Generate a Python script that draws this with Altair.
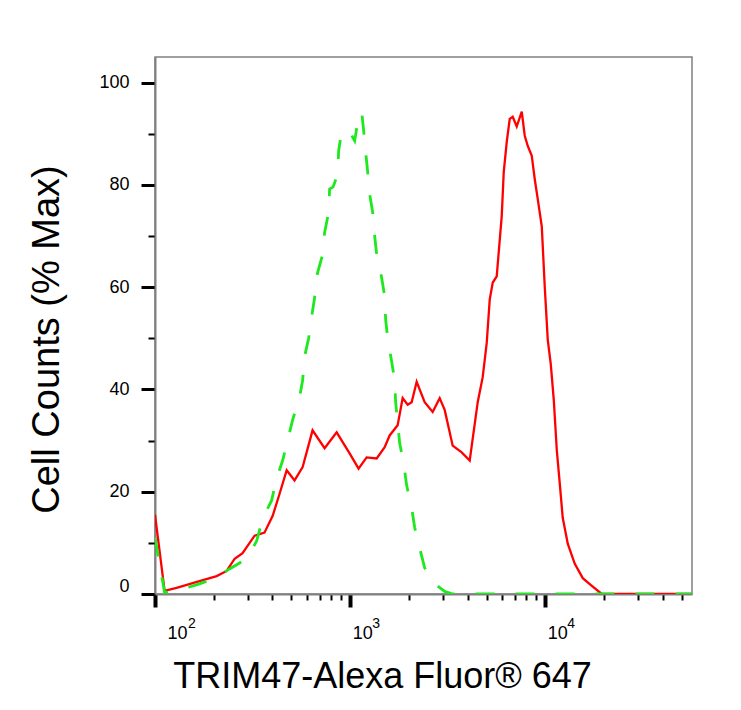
import altair as alt
import pandas as pd

# ---- data ----
red_x = [100, 112, 129, 169, 207, 233, 256, 281, 324, 364,
         401, 435, 473, 519, 571, 642, 740, 853, 994, 1105,
         1215, 1368, 1503, 1594, 1752, 1859, 1972, 2067, 2193, 2410,
         2649, 2877, 3052, 3354, 3731, 4101, 4507, 4780, 5012, 5194,
         5382, 5640, 5774, 5983, 6127, 6348, 6575, 6812, 7142, 7577,
         7851, 8134, 8527, 8835, 9153, 9597, 9940, 10300, 10670, 11060,
         11460, 11870, 12290, 13050, 14170, 15570, 17320, 19490, 56500]
red_y = [15.5, 0.6, 1.2, 2.5, 3.5, 4.5, 6.9, 8.0, 11.4, 12.0,
         15.3, 19.6, 24.2, 22.2, 24.8, 32.0, 28.5, 31.6, 27.5, 24.5,
         26.7, 26.5, 28.7, 31.0, 33.0, 38.3, 37.0, 37.5, 41.5, 37.5,
         35.6, 38.3, 36.0, 29.0, 27.7, 26.1, 37.5, 42.4, 49.1, 57.6,
         60.9, 62.1, 66.8, 73.9, 82.5, 88.4, 92.9, 93.3, 91.4, 94.3,
         89.6, 87.6, 85.7, 81.1, 77.2, 71.9, 60.1, 49.7, 45.0, 37.9,
         28.1, 21.6, 14.9, 9.8, 5.9, 3.1, 1.6, 0, 0]

green_x = [100, 112, 129, 163, 202, 241, 298, 332, 356, 396,
           420, 451, 478, 507, 551, 571, 584, 613, 635, 658,
           681, 723, 740, 776, 785, 818, 863, 873, 904, 994,
           1055, 1080, 1146, 1173, 1201, 1229, 1259, 1305, 1336, 1368,
           1450, 1503, 1521, 1557, 1633, 1691, 1711, 1752, 1794, 1882,
           1949, 2067, 2142, 2272, 2410, 2713, 3052, 3354, 56500]
green_y = [11.0, 0.3, 0.6, 1.8, 3.0, 4.9, 7.0, 10.4, 14.7, 18.3,
           22.6, 26.1, 30.0, 34.0, 38.5, 41.8, 46.4, 50.0, 54.2, 58.0,
           62.8, 66.4, 70.7, 74.6, 79.2, 79.6, 82.0, 86.6, 90.4, 90.4,
           88.6, 91.0, 94.3, 90.6, 86.4, 82.7, 78.2, 74.6, 70.0, 66.4,
           61.9, 58.2, 53.6, 50.0, 45.4, 41.8, 37.5, 33.6, 29.5, 25.5,
           21.2, 16.9, 13.0, 9.0, 5.1, 2.0, 0.5, 0, 0]

x_ticks = [100, 200, 300, 400, 500, 600, 700, 800, 900,
           1000, 2000, 3000, 4000, 5000, 6000, 7000, 8000, 9000,
           10000, 20000, 30000, 40000, 50000]
y_ticks = list(range(0, 106, 5))
exp_vals = [100, 1000, 10000]
exp_text = ["2", "3", "4"]

FONT = "Liberation Sans"

red_df = pd.DataFrame({"x": red_x, "y": red_y, "i": range(len(red_x))})
green_df = pd.DataFrame({"x": green_x, "y": green_y, "i": range(len(green_x))})
exp_df = pd.DataFrame({"x": exp_vals, "t": exp_text})

x_scale = alt.Scale(type="log", domain=[100, 56500], nice=False)
y_scale = alt.Scale(domain=[0, 105], nice=False, zero=False)

MAJOR_X = "datum.value == 100 || datum.value == 1000 || datum.value == 10000"

x_axis = alt.Axis(
    values=x_ticks,
    labelExpr="(" + MAJOR_X + ") ? '10' : ''",
    grid=False,
    domainColor="#808080", domainWidth=2,
    tickColor="#000000",
    tickSize={"condition": {"test": MAJOR_X, "value": 13}, "value": 6},
    tickWidth={"condition": {"test": MAJOR_X, "value": 4}, "value": 2},
    labelAlign="left",
    labelBaseline="alphabetic",
    labelOffset={"condition": {"test": "datum.value == 100", "value": 12}, "value": 2},
    labelPadding=31,
    labelFont=FONT, labelFontSize=18, labelColor="#000000",
    labelOverlap=False,
    title="TRIM47-Alexa Fluor® 647",
    titleFont=FONT, titleFontSize=36, titleFontWeight="normal", titleColor="#000000",
    titleX=227, titleY=93, titleAlign="center", titleBaseline="alphabetic", titleAnchor="start",
)

y_axis = alt.Axis(
    values=y_ticks,
    labelExpr="datum.value % 20 === 0 ? datum.label : ''",
    grid=False,
    domainColor="#808080", domainWidth=2,
    tickColor="#000000",
    tickSize={"condition": {"test": "datum.value % 20 === 0", "value": 14}, "value": 7},
    tickWidth={"condition": {"test": "datum.value % 20 === 0", "value": 3}, "value": 2},
    labelOffset={"condition": {"test": "datum.value === 0", "value": -8}, "value": 0},
    labelPadding=12,
    labelFont=FONT, labelFontSize=18, labelColor="#000000",
    labelOverlap=False,
    title="Cell Counts (% Max)",
    titleFont=FONT, titleFontSize=38, titleFontWeight="normal", titleColor="#000000",
    titleX=-97, titleY=282, titleAlign="center", titleBaseline="alphabetic", titleAngle=270,
    titleAnchor="start",
)

red = alt.Chart(red_df).mark_line(color="#ff0000", strokeWidth=2.3, clip=True).encode(
    x=alt.X("x:Q", scale=x_scale, axis=x_axis),
    y=alt.Y("y:Q", scale=y_scale, axis=y_axis),
    order="i:Q",
)

green = alt.Chart(green_df).mark_line(color="#1ee81e", strokeWidth=2.8, strokeDash=[19, 21], clip=True).encode(
    x=alt.X("x:Q", scale=x_scale),
    y=alt.Y("y:Q", scale=y_scale),
    order="i:Q",
)

exp_first = alt.Chart(exp_df).transform_filter("datum.x == 100").mark_text(
    align="left", baseline="alphabetic", fontSize=14, font=FONT, color="#000000", dx=33
).encode(x=alt.X("x:Q", scale=x_scale), y=alt.value(571), text="t:N")

exp_rest = alt.Chart(exp_df).transform_filter("datum.x > 100").mark_text(
    align="left", baseline="alphabetic", fontSize=14, font=FONT, color="#000000", dx=22
).encode(x=alt.X("x:Q", scale=x_scale), y=alt.value(571), text="t:N")

chart = alt.layer(red, green, exp_first, exp_rest).properties(
    width=537, height=537,
    autosize=alt.AutoSizeParams(type="none"),
    padding={"left": 147, "top": 49, "right": 41, "bottom": 100},
    background="#ffffff",
).configure_view(stroke="#808080", strokeWidth=1.5)

chart.save("out.html", embed_options={"renderer": "svg", "actions": False})
